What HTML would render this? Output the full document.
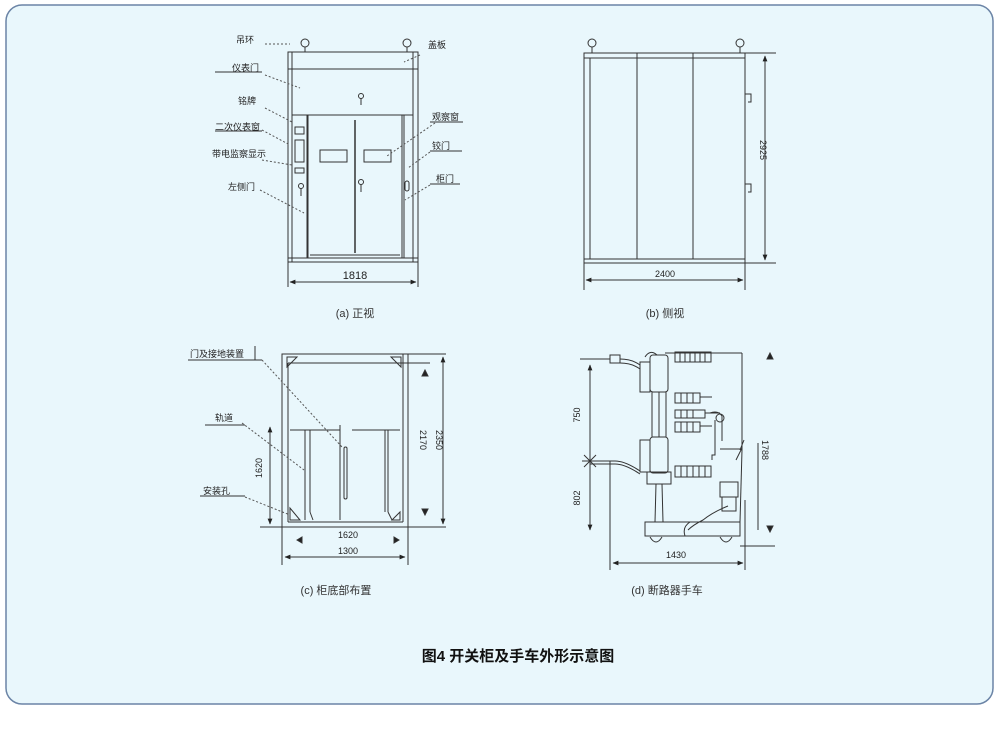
<!DOCTYPE html>
<html><head><meta charset="utf-8"><style>
html,body{margin:0;padding:0;background:#fff;}
svg{display:block;font-family:"Liberation Sans","Noto Sans CJK SC",sans-serif;}
</style></head><body>
<svg width="1000" height="745" viewBox="0 0 1000 745" xmlns="http://www.w3.org/2000/svg">
<defs>
<marker id="ar" viewBox="0 0 10 10" refX="9" refY="5" markerWidth="6" markerHeight="6" orient="auto-start-reverse"><path d="M0,1 L10,5 L0,9z" fill="#222"/></marker>
</defs>
<rect x="6" y="5" width="987" height="699" rx="16" fill="#e9f7fc" stroke="#6b84a6" stroke-width="1.5"/>
<g stroke="#333" stroke-width="1" fill="none">
<!-- (a) front view -->
<rect x="288" y="52" width="130" height="210"/>
<line x1="292" y1="52" x2="292" y2="262"/><line x1="413" y1="52" x2="413" y2="262"/>
<line x1="288" y1="69" x2="418" y2="69"/>
<rect x="292" y="69" width="121" height="46"/>
<line x1="288" y1="258" x2="418" y2="258"/>
<line x1="307" y1="115" x2="307" y2="258"/><line x1="308" y1="115" x2="308" y2="258"/>
<line x1="402" y1="115" x2="402" y2="258"/><line x1="404" y1="115" x2="404" y2="258"/>
<line x1="355" y1="120" x2="355" y2="253" stroke-width="1.5"/>
<line x1="310" y1="255" x2="400" y2="255"/>
<rect x="320" y="150" width="27" height="12"/><rect x="364" y="150" width="27" height="12"/>
<rect x="295" y="127" width="9" height="7"/><rect x="295" y="140" width="9" height="22"/><rect x="295" y="168" width="9" height="5"/>
<circle cx="305" cy="43" r="4"/><circle cx="407" cy="43" r="4"/>
<line x1="305" y1="47" x2="305" y2="52"/><line x1="407" y1="47" x2="407" y2="52"/>
<circle cx="361" cy="96" r="2.5"/><line x1="361" y1="98" x2="361" y2="105"/>
<circle cx="301" cy="186" r="2.5"/><line x1="301" y1="188" x2="301" y2="196"/>
<circle cx="361" cy="182" r="2.5"/><line x1="361" y1="184" x2="361" y2="192"/>
<rect x="405" y="181" width="4" height="10" rx="2"/>
<line x1="288" y1="262" x2="288" y2="287"/><line x1="418" y1="262" x2="418" y2="287"/>
<line x1="290" y1="282" x2="416" y2="282" marker-start="url(#ar)" marker-end="url(#ar)"/>
<!-- leaders (a) -->
<g stroke-dasharray="2,2" stroke="#555">
<line x1="265" y1="44" x2="290" y2="44"/>
<line x1="420" y1="55" x2="404" y2="62"/>
<line x1="265" y1="75" x2="300" y2="88"/>
<line x1="265" y1="108" x2="292" y2="122"/>
<line x1="262" y1="130" x2="290" y2="145"/>
<line x1="262" y1="160" x2="292" y2="165"/>
<line x1="260" y1="190" x2="304" y2="213"/>
<line x1="435" y1="123" x2="387" y2="156"/>
<line x1="430" y1="152" x2="408" y2="168"/>
<line x1="430" y1="185" x2="405" y2="200"/>
</g>
<line x1="215" y1="72" x2="262" y2="72"/>
<line x1="215" y1="131" x2="262" y2="131"/>
<line x1="430" y1="122" x2="463" y2="122"/>
<line x1="430" y1="151" x2="462" y2="151"/>
<line x1="430" y1="184" x2="460" y2="184"/>
<!-- (b) side view -->
<rect x="584" y="53" width="161" height="210"/>
<line x1="584" y1="58" x2="745" y2="58"/>
<line x1="590" y1="58" x2="590" y2="259"/>
<line x1="584" y1="259" x2="745" y2="259"/>
<line x1="637" y1="53" x2="637" y2="259"/><line x1="693" y1="53" x2="693" y2="259"/>
<circle cx="592" cy="43" r="4"/><circle cx="740" cy="43" r="4"/>
<line x1="592" y1="47" x2="592" y2="53"/><line x1="740" y1="47" x2="740" y2="53"/>
<path d="M745,94 h6 v8 h-3"/><path d="M745,184 h6 v8 h-3"/>
<line x1="745" y1="53" x2="776" y2="53"/><line x1="745" y1="263" x2="776" y2="263"/>
<line x1="765" y1="56" x2="765" y2="260" marker-start="url(#ar)" marker-end="url(#ar)"/>
<line x1="584" y1="263" x2="584" y2="290"/><line x1="745" y1="263" x2="745" y2="290"/>
<line x1="586" y1="280" x2="743" y2="280" marker-start="url(#ar)" marker-end="url(#ar)"/>
<!-- (c) bottom layout -->
<rect x="282" y="354" width="126" height="173"/>
<line x1="288" y1="363" x2="288" y2="522"/><line x1="403" y1="354" x2="403" y2="522"/>
<line x1="288" y1="522" x2="403" y2="522"/>
<line x1="288" y1="363" x2="430" y2="363"/>
<line x1="290" y1="430" x2="340" y2="430"/><line x1="352" y1="430" x2="400" y2="430"/>
<line x1="305" y1="430" x2="305" y2="520"/><line x1="310" y1="430" x2="310" y2="512"/><line x1="310" y1="512" x2="313" y2="520"/>
<line x1="385" y1="430" x2="385" y2="512"/><line x1="388" y1="430" x2="388" y2="512"/><line x1="388" y1="512" x2="392" y2="520"/>
<line x1="340" y1="425" x2="340" y2="520"/>
<rect x="344" y="447" width="3" height="52" rx="1.5"/>
<path d="M287,357 h10 l-10,10z"/><path d="M401,357 h-10 l10,10z"/><path d="M290,508 v12 h10z"/><path d="M400,520 h-8 l8,-8z"/>
<line x1="408" y1="354" x2="446" y2="354"/><line x1="408" y1="527" x2="446" y2="527"/>
<line x1="443" y1="357" x2="443" y2="524" marker-start="url(#ar)" marker-end="url(#ar)"/>
<path d="M425,370 l-3,6 h6z M425,515 l-3,-6 h6z" fill="#222"/>
<line x1="260" y1="527" x2="282" y2="527"/>
<line x1="270" y1="427" x2="270" y2="524" marker-start="url(#ar)" marker-end="url(#ar)"/>
<line x1="282" y1="527" x2="282" y2="565"/><line x1="408" y1="527" x2="408" y2="565"/>
<path d="M297,540 l5,-3 v6z M399,540 l-5,-3 v6z" fill="#222"/>
<line x1="285" y1="557" x2="405" y2="557" marker-start="url(#ar)" marker-end="url(#ar)"/>
<g stroke-dasharray="2,2" stroke="#555">
<line x1="262" y1="360" x2="342" y2="447"/>
<line x1="242" y1="423" x2="304" y2="470"/>
<line x1="245" y1="497" x2="290" y2="515"/>
</g>
<line x1="188" y1="360" x2="262" y2="360"/>
<line x1="205" y1="425" x2="245" y2="425"/>
<line x1="200" y1="496" x2="245" y2="496"/>
<line x1="255" y1="346" x2="255" y2="360"/>
<!-- (d) truck -->
<line x1="665" y1="353" x2="742" y2="353"/><line x1="742" y1="353" x2="742" y2="450"/>
<line x1="742" y1="450" x2="740" y2="522"/>
<rect x="640" y="362" width="10" height="30"/><rect x="650" y="355" width="18" height="37" rx="3"/>
<rect x="640" y="440" width="10" height="32"/><rect x="650" y="437" width="18" height="36" rx="3"/>
<line x1="652" y1="392" x2="652" y2="437"/><line x1="666" y1="392" x2="666" y2="437"/><line x1="659" y1="392" x2="659" y2="437"/>
<rect x="647" y="472" width="24" height="12"/>
<line x1="656" y1="484" x2="655" y2="522"/><line x1="662" y1="484" x2="663" y2="522"/>
<rect x="610" y="355" width="10" height="8"/><path d="M580,359 h30 M620,359 q12,0 20,6 M620,363 q12,0 20,6 M645,357 q5,-8 12,-2"/>
<path d="M590,461 h25 q10,0 25,10 M590,464 h25 q10,0 25,10"/>
<path d="M675,352 h36 v10 h-36z M680,352 v10 M685,352 v10 M690,352 v10 M695,352 v10 M700,352 v10 M705,352 v10"/>
<path d="M675,393 h25 v10 h-25z M681,393 v10 M687,393 v10 M693,393 v10 M700,397 h12"/>
<path d="M675,410 h30 v8 h-30z M681,410 v8 M687,410 v8 M693,410 v8 M705,413 h15"/>
<path d="M675,422 h25 v10 h-25z M681,422 v10 M687,422 v10 M693,422 v10 M700,426 h12"/>
<path d="M675,466 h36 v11 h-36z M681,466 v11 M687,466 v11 M693,466 v11 M699,466 v11 M705,466 v11"/>
<path d="M710,413 q8,-3 12,3 v25 M715,420 v35 h-3 v5"/><circle cx="720" cy="418" r="4"/>
<line x1="720" y1="449" x2="742" y2="449"/>
<path d="M742,448 l-6,12 M740,450 l4,-10"/>
<rect x="720" y="482" width="18" height="15"/><rect x="722" y="497" width="14" height="14"/>
<path d="M728,506 q-15,6 -25,14 q-10,5 -15,10 M690,522 q-8,5 -5,14"/>
<rect x="645" y="522" width="95" height="14"/>
<path d="M650,537 q6,10 12,0 M720,537 q6,10 12,0"/>
<line x1="610" y1="461" x2="610" y2="570"/><line x1="745" y1="500" x2="745" y2="570"/>
<line x1="613" y1="563" x2="743" y2="563" marker-start="url(#ar)" marker-end="url(#ar)"/>
<line x1="590" y1="365" x2="590" y2="530" marker-start="url(#ar)" marker-end="url(#ar)"/>
<line x1="582" y1="461" x2="600" y2="461"/><line x1="584" y1="455" x2="596" y2="467"/><line x1="596" y1="455" x2="584" y2="467"/>
<line x1="758" y1="443" x2="758" y2="530"/>
<line x1="740" y1="546" x2="775" y2="546"/>
<path d="M770,353 l-3,6 h6z M770,532 l-3,-6 h6z" fill="#222"/>
</g>
<g fill="#222" font-size="9">
<text x="236" y="43">吊环</text>
<text x="428" y="48">盖板</text>
<text x="232" y="71">仪表门</text>
<text x="238" y="104">铭牌</text>
<text x="215" y="130">二次仪表窗</text>
<text x="212" y="157">带电监察显示</text>
<text x="228" y="190">左侧门</text>
<text x="432" y="120">观察窗</text>
<text x="432" y="149">铰门</text>
<text x="436" y="182">柜门</text>
<text x="355" y="279" text-anchor="middle" font-size="11">1818</text>
<text x="665" y="277" text-anchor="middle">2400</text>
<text x="760" y="150" transform="rotate(90 760 150)" text-anchor="middle">2925</text>
<text x="190" y="357">门及接地装置</text>
<text x="215" y="421">轨道</text>
<text x="203" y="494">安装孔</text>
<text x="420" y="440" transform="rotate(90 420 440)" text-anchor="middle">2170</text>
<text x="436" y="440" transform="rotate(90 436 440)" text-anchor="middle">2350</text>
<text x="262" y="468" transform="rotate(-90 262 468)" text-anchor="middle">1620</text>
<text x="348" y="538" text-anchor="middle">1620</text>
<text x="348" y="554" text-anchor="middle">1300</text>
<text x="580" y="415" transform="rotate(-90 580 415)" text-anchor="middle">750</text>
<text x="580" y="498" transform="rotate(-90 580 498)" text-anchor="middle">802</text>
<text x="762" y="450" transform="rotate(90 762 450)" text-anchor="middle">1788</text>
<text x="676" y="558" text-anchor="middle">1430</text>
</g>
<g fill="#333" font-size="11">
<text x="355" y="317" text-anchor="middle">(a) 正视</text>
<text x="665" y="317" text-anchor="middle">(b) 侧视</text>
<text x="336" y="594" text-anchor="middle">(c) 柜底部布置</text>
<text x="667" y="594" text-anchor="middle">(d) 断路器手车</text>
</g>
<text x="518" y="661" text-anchor="middle" font-size="15" font-weight="bold" fill="#111">图4  开关柜及手车外形示意图</text>
</svg>
</body></html>
